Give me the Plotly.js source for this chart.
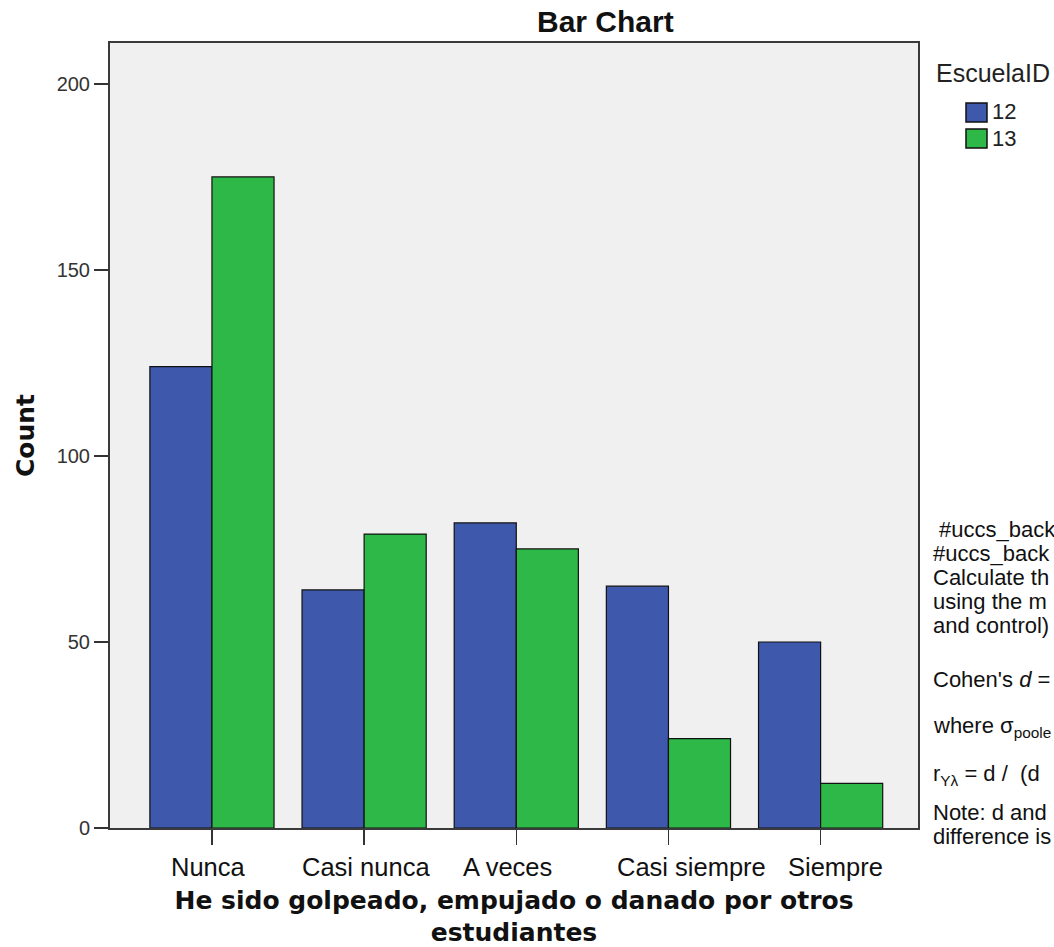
<!DOCTYPE html>
<html>
<head>
<meta charset="utf-8">
<script src="https://cdn.plot.ly/plotly-3.0.1.min.js"></script>
<style>html,body{margin:0;padding:0;background:#fff;}#chart{width:1054px;height:947px;}</style>
</head>
<body>
<div id="chart"></div>
<script>
const categories = ["Nunca", "Casi nunca", "A veces", "Casi siempre", "Siempre"];
const seriesNames = ["12", "13"];
const values12 = [124, 64, 82, 65, 50];
const values13 = [175, 79, 75, 24, 12];
const yTicks = [0, 50, 100, 150, 200];
const legendTitle = "EscuelaID";
const sideLines = [
  "\u00a0#uccs_back",
  "#uccs_back",
  "Calculate th",
  "using the m",
  "and control)",
  "Cohen's <i>d</i> =",
  "where \u03c3<sub>poole</sub>",
  "r<sub>Y\u03bb</sub> = d /\u00a0\u00a0(d",
  "Note: d and",
  "difference is"
];

// layout / style constants (pixel positions of decorations)
const sideY = [529, 553, 577, 601, 625, 679, 727, 775, 812, 836];
const labelShift = [-3, 2, -9, 23, 15];
const colors = ["#3e58ac", "#2eb848"];
const L = 110, R = 918, T = 43, B = 828, W = 1054, H = 947;
const px2x = p => (p - L) / (R - L);
const py2y = p => (B - p) / (B - T);

const traces = [values12, values13].map((v, i) => ({
  type: "bar",
  name: seriesNames[i],
  x: categories,
  y: v,
  showlegend: false,
  marker: {color: colors[i], line: {color: "#111", width: 1.2}},
  hoverinfo: "x+y+name"
}));

const textFont = {family: "Liberation Sans, Arial", size: 22, color: "#111"};

const annotations = [{
  text: legendTitle, xref: "paper", yref: "paper",
  x: px2x(934), y: py2y(73), xanchor: "left", yanchor: "middle",
  showarrow: false, font: {family: "Liberation Sans, Arial", size: 25, color: "#222"}
}].concat(seriesNames.map((n, i) => ({
  text: n, xref: "paper", yref: "paper",
  x: px2x(990), y: py2y(112 + 26 * i), xanchor: "left", yanchor: "middle",
  showarrow: false, font: {family: "Liberation Sans, Arial", size: 22, color: "#222"}
}))).concat(sideLines.map((t, i) => ({
  text: t, xref: "paper", yref: "paper",
  x: px2x(931), y: py2y(sideY[i]), xanchor: "left", yanchor: "middle",
  showarrow: false, font: textFont
}))).concat(categories.map((c, i) => ({
  text: c, xref: "x", yref: "paper",
  x: c, y: py2y(867), xanchor: "center", yanchor: "middle", xshift: labelShift[i],
  showarrow: false, font: {family: "Liberation Sans, Arial", size: 25.5, color: "#111"}
})));

const shapes = seriesNames.map((n, i) => ({
  type: "rect", xref: "paper", yref: "paper",
  x0: px2x(966), x1: px2x(987), y0: py2y(122 + 26 * i), y1: py2y(103 + 26 * i),
  fillcolor: colors[i], line: {color: "#111", width: 1.5}
}));

const layout = {
  width: W, height: H,
  margin: {l: L, r: W - R, t: T, b: H - B, pad: 0},
  paper_bgcolor: "#ffffff",
  plot_bgcolor: "#f0f0f0",
  title: {text: "<b>Bar Chart</b>", x: 537 / W, xanchor: "left", xref: "container",
          y: 1 - 21 / H, yref: "container", yanchor: "middle",
          font: {family: "Liberation Sans, Arial", size: 30, color: "#111"}},
  barmode: "group",
  bargap: 0.184,
  bargroupgap: 0,
  showlegend: false,
  xaxis: {
    type: "category",
    range: [-0.67, 4.64],
    showline: true, mirror: true, linecolor: "#3a3a3a", linewidth: 2,
    ticks: "outside", ticklen: 15, tickcolor: "#333", tickwidth: 1.5,
    showticklabels: false,
    showgrid: false, zeroline: false, automargin: false,
    title: {text: "<b>He sido golpeado, empujado o danado por otros<br>estudiantes</b>",
            font: {family: "DejaVu Sans", size: 25, color: "#111"}, standoff: 53}
  },
  yaxis: {
    range: [0, 211],
    tickvals: yTicks,
    showline: true, mirror: true, linecolor: "#3a3a3a", linewidth: 2,
    ticks: "outside", ticklen: 14, tickcolor: "#333", tickwidth: 1.5,
    tickfont: {family: "Liberation Sans, Arial", size: 20, color: "#333"},
    showgrid: false, zeroline: false, automargin: false,
    title: {text: "<b>Count</b>", font: {family: "DejaVu Sans", size: 25, color: "#111"}, standoff: 15}
  },
  shapes: shapes,
  annotations: annotations
};

Plotly.newPlot("chart", traces, layout, {staticPlot: true, displayModeBar: false});
</script>
</body>
</html>
